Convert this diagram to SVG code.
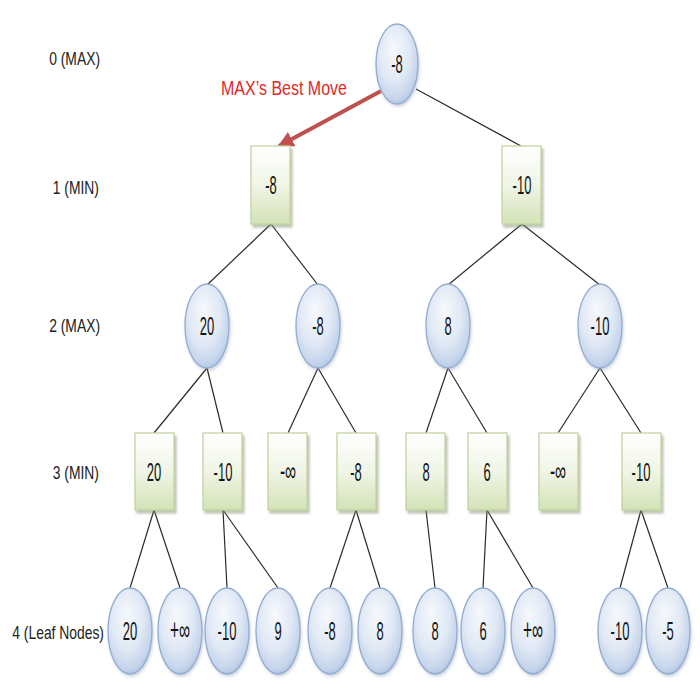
<svg xmlns="http://www.w3.org/2000/svg" width="700" height="700" viewBox="0 0 700 700">
<defs>
<radialGradient id="gb" cx="0.45" cy="0.4" r="0.65" fx="0.42" fy="0.3">
<stop offset="0" stop-color="#f6f9fd"/>
<stop offset="0.55" stop-color="#e1e9f5"/>
<stop offset="0.85" stop-color="#c5d5eb"/>
<stop offset="1" stop-color="#a9c0e0"/>
</radialGradient>
<linearGradient id="gg" x1="0" y1="0" x2="0" y2="1">
<stop offset="0" stop-color="#ffffff"/>
<stop offset="0.5" stop-color="#f0f5e6"/>
<stop offset="1" stop-color="#d4e2b7"/>
</linearGradient>
<filter id="sh" x="-30%" y="-20%" width="160%" height="140%">
<feDropShadow dx="2" dy="3" stdDeviation="1.2" flood-color="#7f8c6a" flood-opacity="0.5"/>
</filter>
<filter id="shb" x="-30%" y="-20%" width="160%" height="140%">
<feDropShadow dx="1" dy="2" stdDeviation="1.5" flood-color="#8595ad" flood-opacity="0.4"/>
</filter>
<marker id="ah" viewBox="0 0 10 10" refX="9" refY="5" markerWidth="4" markerHeight="4" orient="auto" markerUnits="strokeWidth">
<path d="M0,0 L10,5 L0,10 Z" fill="#c0504d"/>
</marker>
<style>
.c{fill:url(#gb);stroke:#93acd3;stroke-width:1.3;filter:url(#shb)}
.r{fill:url(#gg);stroke:#c3d49f;stroke-width:1.3;filter:url(#sh)}
.t{font-family:"Liberation Sans",Arial,sans-serif;font-size:25px;fill:#151515;text-anchor:middle}
.l{font-family:"Liberation Sans",Arial,sans-serif;font-size:19px;fill:#222;text-anchor:end}
.e{stroke:#2b2b2b;stroke-width:1.2;fill:none}
.best{font-family:"Liberation Sans",Arial,sans-serif;font-size:20px;fill:#dd2a2a;text-anchor:middle}
</style>
</defs>
<rect width="700" height="700" fill="#ffffff"/>

<g id="labels">
<text class="l" transform="translate(100,65) scale(0.73,1)">0 (MAX)</text>
<text class="l" transform="translate(99,194) scale(0.73,1)">1 (MIN)</text>
<text class="l" transform="translate(100,332) scale(0.73,1)">2 (MAX)</text>
<text class="l" transform="translate(99,479) scale(0.73,1)">3 (MIN)</text>
<text class="l" transform="translate(104,639) scale(0.73,1)">4 (Leaf Nodes)</text>
</g>

<g id="connectors">
<line class="e" x1="416" y1="89" x2="521" y2="146"/>
<line class="e" x1="271" y1="224" x2="207" y2="285"/>
<line class="e" x1="271" y1="224" x2="318" y2="285"/>
<line class="e" x1="522" y1="224" x2="448" y2="285"/>
<line class="e" x1="522" y1="224" x2="600" y2="285"/>
<line class="e" x1="207" y1="368" x2="154" y2="433"/>
<line class="e" x1="207" y1="368" x2="223" y2="433"/>
<line class="e" x1="318" y1="368" x2="288" y2="433"/>
<line class="e" x1="318" y1="368" x2="356" y2="433"/>
<line class="e" x1="448" y1="368" x2="426" y2="433"/>
<line class="e" x1="448" y1="368" x2="487" y2="433"/>
<line class="e" x1="600" y1="368" x2="558" y2="433"/>
<line class="e" x1="600" y1="368" x2="641" y2="433"/>
<line class="e" x1="154" y1="510" x2="130" y2="588"/>
<line class="e" x1="154" y1="510" x2="180" y2="588"/>
<line class="e" x1="223" y1="510" x2="227" y2="588"/>
<line class="e" x1="223" y1="510" x2="278" y2="588"/>
<line class="e" x1="356" y1="510" x2="330" y2="588"/>
<line class="e" x1="356" y1="510" x2="380" y2="588"/>
<line class="e" x1="426" y1="510" x2="435" y2="588"/>
<line class="e" x1="487" y1="510" x2="483" y2="588"/>
<line class="e" x1="487" y1="510" x2="533" y2="588"/>
<line class="e" x1="641" y1="510" x2="620" y2="588"/>
<line class="e" x1="641" y1="510" x2="668" y2="588"/>
<line x1="381" y1="91" x2="279" y2="146" stroke="#c0504d" stroke-width="4" marker-end="url(#ah)"/>
<text class="best" transform="translate(284,95) scale(0.8,1)">MAX’s Best Move</text>
</g>

<g id="n0"><ellipse class="c" cx="397" cy="64" rx="21" ry="40"/><text class="t" transform="translate(397,73) scale(0.52,1)">-8</text></g>

<g id="n1a"><rect class="r" x="251" y="146" width="39" height="78"/><text class="t" transform="translate(271,194) scale(0.52,1)">-8</text></g>
<g id="n1b"><rect class="r" x="502" y="146" width="39" height="78"/><text class="t" transform="translate(522,194) scale(0.52,1)">-10</text></g>

<g id="n2a"><ellipse class="c" cx="207" cy="326" rx="22" ry="42"/><text class="t" transform="translate(207,335) scale(0.52,1)">20</text></g>
<g id="n2b"><ellipse class="c" cx="318" cy="326" rx="22" ry="42"/><text class="t" transform="translate(318,335) scale(0.52,1)">-8</text></g>
<g id="n2c"><ellipse class="c" cx="448" cy="326" rx="22" ry="42"/><text class="t" transform="translate(448,335) scale(0.52,1)">8</text></g>
<g id="n2d"><ellipse class="c" cx="600" cy="326" rx="22" ry="42"/><text class="t" transform="translate(600,335) scale(0.52,1)">-10</text></g>

<g id="n3a"><rect class="r" x="135" y="433" width="39" height="77"/><text class="t" transform="translate(154,481) scale(0.52,1)">20</text></g>
<g id="n3b"><rect class="r" x="203" y="433" width="39" height="77"/><text class="t" transform="translate(223,481) scale(0.52,1)">-10</text></g>
<g id="n3c"><rect class="r" x="268" y="433" width="39" height="77"/><text class="t" transform="translate(288,481) scale(0.62,1.15)">-∞</text></g>
<g id="n3d"><rect class="r" x="337" y="433" width="39" height="77"/><text class="t" transform="translate(356,481) scale(0.52,1)">-8</text></g>
<g id="n3e"><rect class="r" x="406" y="433" width="39" height="77"/><text class="t" transform="translate(426,481) scale(0.52,1)">8</text></g>
<g id="n3f"><rect class="r" x="468" y="433" width="39" height="77"/><text class="t" transform="translate(487,481) scale(0.52,1)">6</text></g>
<g id="n3g"><rect class="r" x="539" y="433" width="39" height="77"/><text class="t" transform="translate(558,481) scale(0.62,1.15)">-∞</text></g>
<g id="n3h"><rect class="r" x="622" y="433" width="39" height="77"/><text class="t" transform="translate(641,481) scale(0.52,1)">-10</text></g>

<g id="n4a"><ellipse class="c" cx="130" cy="631" rx="22" ry="43"/><text class="t" transform="translate(130,640) scale(0.52,1)">20</text></g>
<g id="n4b"><ellipse class="c" cx="180" cy="631" rx="22" ry="43"/><text class="t" transform="translate(180,640) scale(0.62,1.15)">+∞</text></g>
<g id="n4c"><ellipse class="c" cx="227" cy="631" rx="22" ry="43"/><text class="t" transform="translate(227,640) scale(0.52,1)">-10</text></g>
<g id="n4d"><ellipse class="c" cx="278" cy="631" rx="22" ry="43"/><text class="t" transform="translate(278,640) scale(0.52,1)">9</text></g>
<g id="n4e"><ellipse class="c" cx="330" cy="631" rx="22" ry="43"/><text class="t" transform="translate(330,640) scale(0.52,1)">-8</text></g>
<g id="n4f"><ellipse class="c" cx="380" cy="631" rx="22" ry="43"/><text class="t" transform="translate(380,640) scale(0.52,1)">8</text></g>
<g id="n4g"><ellipse class="c" cx="435" cy="631" rx="22" ry="43"/><text class="t" transform="translate(435,640) scale(0.52,1)">8</text></g>
<g id="n4h"><ellipse class="c" cx="483" cy="631" rx="22" ry="43"/><text class="t" transform="translate(483,640) scale(0.52,1)">6</text></g>
<g id="n4i"><ellipse class="c" cx="533" cy="631" rx="22" ry="43"/><text class="t" transform="translate(533,640) scale(0.62,1.15)">+∞</text></g>
<g id="n4j"><ellipse class="c" cx="620" cy="631" rx="22" ry="43"/><text class="t" transform="translate(620,640) scale(0.52,1)">-10</text></g>
<g id="n4k"><ellipse class="c" cx="668" cy="631" rx="22" ry="43"/><text class="t" transform="translate(668,640) scale(0.52,1)">-5</text></g>
</svg>
